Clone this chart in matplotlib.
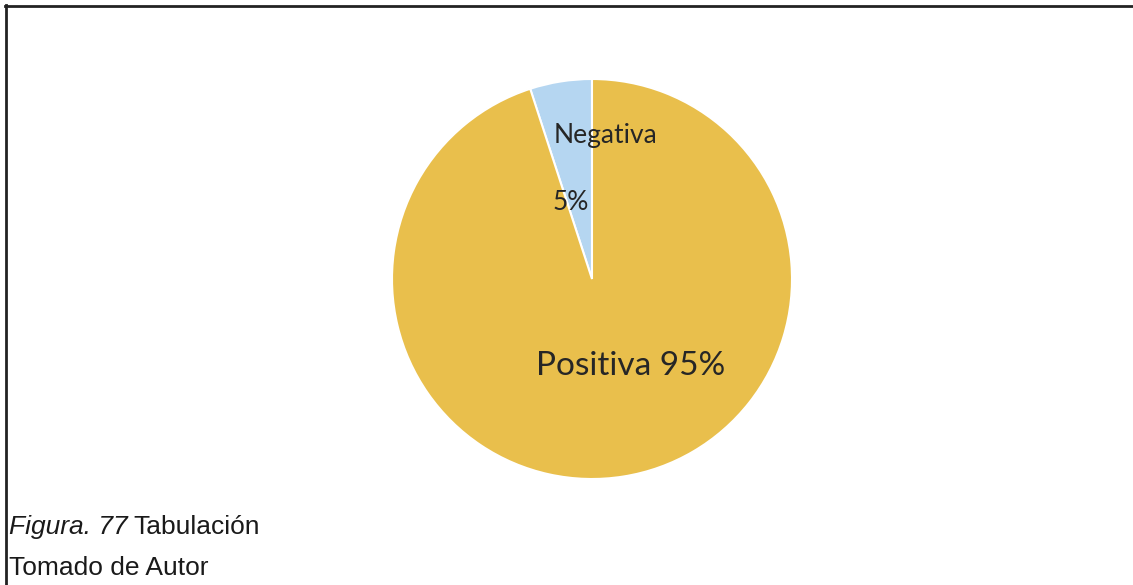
import matplotlib
matplotlib.use("Agg")
import matplotlib.pyplot as plt
from matplotlib.lines import Line2D

categories = ["Negativa", "Positiva"]
values = [5, 95]
colors = ["#B5D6F1", "#E9BF4C"]

W, H = 1133, 585
fig = plt.figure(figsize=(W / 100, H / 100), dpi=100)

cx, cy, r = 592, 279, 200
ax = fig.add_axes([(cx - r) / W, (H - cy - r) / H, 2 * r / W, 2 * r / H])
wedges, _ = ax.pie(values, colors=colors, startangle=90, counterclock=True,
                   wedgeprops=dict(edgecolor="white", linewidth=1.5))
ax.set_xlim(-1, 1)
ax.set_ylim(-1, 1)
ax.axis("off")

txtc = "#262626"
font = ["Lato", "DejaVu Sans"]
ax.text(0.065, 0.72, categories[0], ha="center", va="center", fontsize=19,
        color=txtc, family=font)
ax.text(-0.105, 0.385, f"{values[0]}%", ha="center", va="center", fontsize=19,
        color=txtc, family=font)
ax.text(0.195, -0.435, f"{categories[1]} {values[1]}%", ha="center", va="center",
        fontsize=24, color=txtc, family=font)

# border lines
fig.add_artist(Line2D([5 / W, 1], [1 - 6 / H, 1 - 6 / H], transform=fig.transFigure,
                      color="#222222", linewidth=2))
fig.add_artist(Line2D([6 / W, 6 / W], [1 - 5 / H, 0], transform=fig.transFigure,
                      color="#222222", linewidth=2))

cap = ["Liberation Sans", "DejaVu Sans"]
t1 = fig.text(9 / W, 1 - 527 / H, "Figura. 77", style="italic", fontsize=19,
              family=cap, va="center", ha="left", color="#1a1a1a")
fig.canvas.draw()
bb = t1.get_window_extent()
fig.text((bb.x1 + 6) / W, 1 - 527 / H, "Tabulación", fontsize=19,
         family=cap, va="center", ha="left", color="#1a1a1a")
fig.text(9 / W, 1 - 568 / H, "Tomado de Autor", fontsize=19,
         family=cap, va="center", ha="left", color="#1a1a1a")

fig.savefig("out.png", dpi=100, facecolor="white")
